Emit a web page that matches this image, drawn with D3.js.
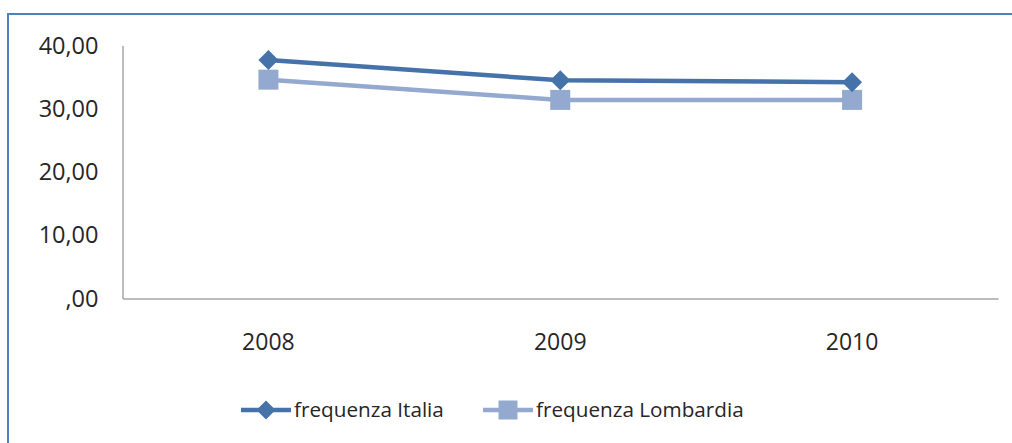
<!DOCTYPE html>
<html>
<head>
<meta charset="utf-8">
<script src="https://cdn.jsdelivr.net/npm/d3@7"></script>
<style>
  body { margin: 0; background: #fff; }
  svg { display: block; font-family: "Open Sans", sans-serif; }
</style>
</head>
<body>
<div id="container"></div>
<script>
// Chart data.
const years = ['2008', '2009', '2010'];
const italia = [37.7, 34.5, 34.2];
const lombardia = [34.6, 31.4, 31.4];
const yTicks = [0, 10, 20, 30, 40];
const seriesNames = ['frequenza Italia', 'frequenza Lombardia'];

window.addEventListener('DOMContentLoaded', (event) => {

    const svg = d3.select('#container')
        .append('svg')
        .attr('width', 1012)
        .attr('height', 443);

    // Outer border.
    svg.append('rect')
        .attr('x', 8)
        .attr('y', 14)
        .attr('width', 1020)
        .attr('height', 460)
        .attr('stroke', '#4f81bd')
        .attr('stroke-width', 2)
        .attr('fill', 'none');

    const x = d3.scaleBand()
        .domain(years)
        .range([122.5, 998]);

    const y = d3.scaleLinear()
        .domain([0, 40])
        .range([298.5, 45.5]);

    const fmt = v => (v === 0 ? '' : d3.format('.0f')(v)) + ',00';

    // Axes.
    const yAxis = svg.append('g')
        .attr('transform', 'translate(122.5,0)')
        .call(d3.axisLeft(y).tickValues(yTicks).tickSize(0).tickPadding(24).tickFormat(fmt));

    yAxis.select('.domain').attr('stroke', '#a6a6a6').attr('stroke-width', 1.5);
    yAxis.selectAll('text')
        .attr('font-size', 23.5)
        .attr('fill', '#262626')
        .attr('font-family', '"Open Sans", sans-serif');

    const xAxis = svg.append('g')
        .attr('transform', 'translate(0,298.5)')
        .call(d3.axisBottom(x).tickSize(0).tickPadding(35));

    xAxis.select('.domain').attr('stroke', '#a6a6a6').attr('stroke-width', 1.5);
    xAxis.selectAll('text')
        .attr('font-size', 23)
        .attr('fill', '#262626')
        .attr('font-family', '"Open Sans", sans-serif');

    const cx = d => x(d) + x.bandwidth() / 2;

    const lineGen = d3.line()
        .x((d, i) => cx(years[i]))
        .y(d => y(d));

    // Lombardia series.
    svg.append('path')
        .datum(lombardia)
        .attr('d', lineGen)
        .attr('fill', 'none')
        .attr('stroke', '#94a9d0')
        .attr('stroke-width', 4.5);

    svg.selectAll('.sq')
        .data(lombardia)
        .enter()
        .append('rect')
        .attr('class', 'sq')
        .attr('x', (d, i) => cx(years[i]) - 10)
        .attr('y', d => y(d) - 10)
        .attr('width', 20)
        .attr('height', 20)
        .attr('fill', '#94a9d0');

    // Italia series.
    svg.append('path')
        .datum(italia)
        .attr('d', lineGen)
        .attr('fill', 'none')
        .attr('stroke', '#4672aa')
        .attr('stroke-width', 4.5);

    svg.selectAll('.dm')
        .data(italia)
        .enter()
        .append('path')
        .attr('class', 'dm')
        .attr('d', (d, i) => {
            const px = cx(years[i]), py = y(d), r = 10;
            return `M${px},${py - r}L${px + r},${py}L${px},${py + r}L${px - r},${py}Z`;
        })
        .attr('fill', '#4672aa');

    // Legend.
    const legend = svg.append('g').attr('transform', 'translate(0,410)');

    const leg1 = legend.append('g').attr('transform', 'translate(241,0)');
    leg1.append('line')
        .attr('x1', 0).attr('x2', 50).attr('y1', 0).attr('y2', 0)
        .attr('stroke', '#4672aa').attr('stroke-width', 4.5);
    leg1.append('path')
        .attr('d', 'M25,-9.5L34.5,0L25,9.5L15.5,0Z')
        .attr('fill', '#4672aa');
    leg1.append('text')
        .attr('x', 53).attr('y', 0).attr('dy', '0.35em')
        .attr('font-size', 20.7).attr('fill', '#262626')
        .text(seriesNames[0]);

    const leg2 = legend.append('g').attr('transform', 'translate(483,0)');
    leg2.append('line')
        .attr('x1', 0).attr('x2', 50).attr('y1', 0).attr('y2', 0)
        .attr('stroke', '#94a9d0').attr('stroke-width', 4.5);
    leg2.append('rect')
        .attr('x', 15.5).attr('y', -9.5).attr('width', 19).attr('height', 19)
        .attr('fill', '#94a9d0');
    leg2.append('text')
        .attr('x', 53).attr('y', 0).attr('dy', '0.35em')
        .attr('font-size', 20.7).attr('fill', '#262626')
        .text(seriesNames[1]);

}); // end of document ready
</script>
</body>
</html>
